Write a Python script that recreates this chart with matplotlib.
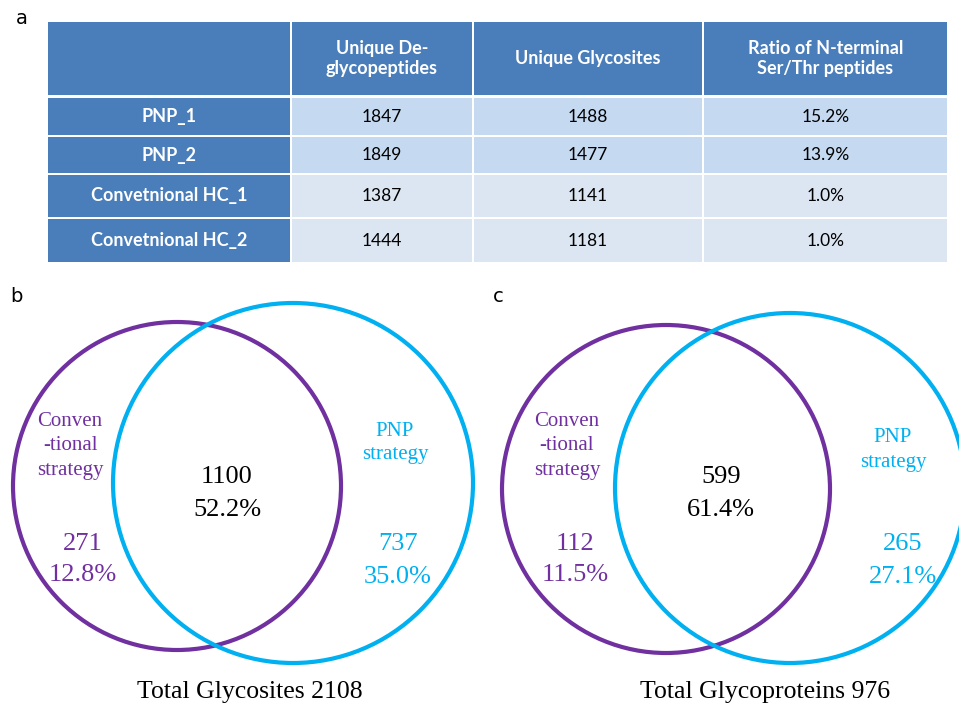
import matplotlib
matplotlib.use("Agg")
from matplotlib import pyplot as plt
from matplotlib.patches import Rectangle, Circle

# ---- data ----
col_headers = ["", "Unique De-\nglycopeptides", "Unique Glycosites",
               "Ratio of N-terminal\nSer/Thr peptides"]
row_labels = ["PNP_1", "PNP_2", "Convetnional HC_1", "Convetnional HC_2"]
deglycopeptides = [1847, 1849, 1387, 1444]
glycosites = [1488, 1477, 1141, 1181]
nterm_ratio = ["15.2%", "13.9%", "1.0%", "1.0%"]

# venn b: conventional only, shared, PNP only
site_counts = [271, 1100, 737]
site_pcts = ["12.8%", "52.2%", "35.0%"]
site_total = 2108
# venn c
prot_counts = [112, 599, 265]
prot_pcts = ["11.5%", "61.4%", "27.1%"]
prot_total = 976

# ---- style ----
HDR = "#4a7ebb"
PNP_BG = "#c5d9f1"
HC_BG = "#dce6f2"
PURPLE = "#7030a0"
CYAN = "#00b0f0"
sans = "Lato"
serif = "Liberation Serif"

fig = plt.figure(figsize=(9.59, 7.04), dpi=100)
ax = fig.add_axes([0, 0, 1, 1])
ax.set_xlim(0, 959)
ax.set_ylim(704, 0)
ax.axis("off")

# ---- table (a) ----
col_x = [47, 291, 473, 703, 948]
row_y = [22, 97, 136, 174, 218, 263]
gap = 1.2

for j in range(4):
    x0, x1 = col_x[j], col_x[j + 1]
    ax.add_patch(Rectangle((x0 + gap, row_y[0]), x1 - x0 - 2 * gap, row_y[1] - row_y[0] - 2,
                           facecolor=HDR, edgecolor="none"))
    ax.text((x0 + x1) / 2, (row_y[0] + row_y[1]) / 2 - 1, col_headers[j], ha="center", va="center",
            color="white", fontweight="bold", family=sans, fontsize=13, linespacing=1.15)

for i, lab in enumerate(row_labels):
    y0, y1 = row_y[i + 1], row_y[i + 2]
    bg = PNP_BG if i < 2 else HC_BG
    vals = [lab, str(deglycopeptides[i]), str(glycosites[i]), nterm_ratio[i]]
    for j in range(4):
        x0, x1 = col_x[j], col_x[j + 1]
        ax.add_patch(Rectangle((x0 + gap, y0 + gap), x1 - x0 - 2 * gap, y1 - y0 - 2 * gap,
                               facecolor=HDR if j == 0 else bg, edgecolor="none"))
        if j == 0:
            ax.text((x0 + x1) / 2, (y0 + y1) / 2, vals[j], ha="center", va="center",
                    color="white", fontweight="bold", family=sans, fontsize=13)
        else:
            ax.text((x0 + x1) / 2, (y0 + y1) / 2, vals[j], ha="center", va="center",
                    color="black", family=sans, fontsize=12.5)

# ---- panel letters ----
for lx, ly, s in [(22, 18, "a"), (16, 297, "b"), (498, 297, "c")]:
    ax.text(lx, ly, s, ha="center", va="center", fontsize=14, family="DejaVu Sans")


def lines(x, ys, strs, color, size):
    for y, s in zip(ys, strs):
        ax.text(x, y + 2, s, ha="center", va="center", color=color, family=serif, fontsize=size)


def venn(xs, counts, pcts, total, title, c1, c2, title_x, pnp_y):
    ax.add_patch(Circle(c1[:2], c1[2], fill=False, edgecolor=PURPLE, linewidth=3))
    ax.add_patch(Circle(c2[:2], c2[2], fill=False, edgecolor=CYAN, linewidth=3, clip_on=False))
    lines(xs[0], [419, 444, 469], ["Conven", "-tional", "strategy"], PURPLE, 15)
    lines(xs[1], [475, 508], [str(counts[1]), pcts[1]], "black", 19)
    lines(xs[2], [542, 573], [str(counts[0]), pcts[0]], PURPLE, 19)
    lines(xs[3], [pnp_y, pnp_y + 24], ["PNP", "strategy"], CYAN, 15)
    lines(xs[4], [542, 575], [str(counts[2]), pcts[2]], CYAN, 19)
    ax.text(title_x, 692, f"{title} {total}", ha="center", va="center", color="black",
            family=serif, fontsize=18.5)


venn([70, 227, 83, 395, 398], site_counts, site_pcts, site_total, "Total Glycosites",
     (177, 486, 164), (293, 483, 180), 250, 429)
venn([567, 721, 575, 893, 903], prot_counts, prot_pcts, prot_total, "Total Glycoproteins",
     (666, 489, 164), (790, 488, 175), 765, 436)

fig.savefig("out.png", dpi=100)
